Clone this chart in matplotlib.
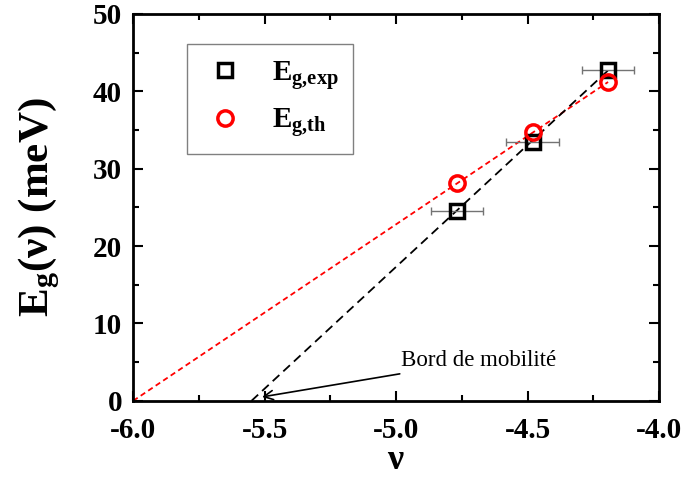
import matplotlib
matplotlib.use("Agg")
import matplotlib.pyplot as plt
from matplotlib.ticker import MultipleLocator

# data
nu_exp = [-4.769, -4.481, -4.194]
eg_exp = [24.5, 33.5, 42.7]
nu_err = [0.1, 0.1, 0.1]
nu_th = [-4.769, -4.481, -4.194]
eg_th = [28.1, 34.8, 41.2]

# dashed guide lines (linear extrapolations to zero)
fit_th_x = [-6.0, -4.194]
fit_th_y = [0.0, 41.2]
fit_exp_x = [-5.55, -4.194]
fit_exp_y = [0.0, 42.7]

plt.rcParams['font.family'] = ['Liberation Serif', 'DejaVu Serif']
plt.rcParams['mathtext.fontset'] = 'custom'
plt.rcParams['mathtext.rm'] = 'Liberation Serif:bold'
plt.rcParams['mathtext.it'] = 'Liberation Serif:bold'
plt.rcParams['mathtext.bf'] = 'Liberation Serif:bold'

fig = plt.figure(figsize=(6.83, 4.8), dpi=100)
ax = fig.add_axes([0.195, 0.165, 0.77, 0.806])

ax.plot(fit_th_x, fit_th_y, color='red', ls=(0, (3, 2)), lw=1.3, zorder=2)
ax.plot(fit_exp_x, fit_exp_y, color='black', ls=(0, (5, 3)), lw=1.3, zorder=2)

ax.errorbar(nu_exp, eg_exp, xerr=nu_err, fmt='none', ecolor='0.45',
            elinewidth=1.0, capsize=3, capthick=1.0, zorder=3)
ax.plot(nu_exp, eg_exp, ls='none', marker='s', ms=10, mfc='none',
        mec='black', mew=2.5, label=r'$\mathrm{E_{g{,}exp}}$', zorder=4)
ax.plot(nu_th, eg_th, ls='none', marker='o', ms=11, mfc='none',
        mec='red', mew=2.5, label=r'$\mathrm{E_{g{,}th}}$', zorder=5)

ax.annotate('Bord de mobilité', xy=(-5.51, 0.5), xytext=(-4.98, 5.2),
            fontsize=16.5, va='center', ha='left',
            arrowprops=dict(arrowstyle='->', color='black', lw=1.2,
                            shrinkA=0, shrinkB=0))

ax.set_xlim(-6.0, -4.0)
ax.set_ylim(0, 50)
ax.xaxis.set_major_locator(MultipleLocator(0.5))
ax.xaxis.set_minor_locator(MultipleLocator(0.25))
ax.yaxis.set_major_locator(MultipleLocator(10))
ax.yaxis.set_minor_locator(MultipleLocator(5))
ax.xaxis.set_major_formatter(plt.FormatStrFormatter('%.1f'))

ax.tick_params(which='both', direction='in', top=True, right=True, width=1.5)
ax.tick_params(which='major', length=7, labelsize=21)
ax.tick_params(axis='x', which='major', pad=12)
ax.tick_params(axis='y', which='major', pad=8)
ax.tick_params(which='minor', length=4)
for lbl in ax.get_xticklabels() + ax.get_yticklabels():
    lbl.set_fontweight('bold')
for sp in ax.spines.values():
    sp.set_linewidth(2)

ax.set_xlabel(r'$\nu$', fontsize=26, labelpad=0)
ax.set_ylabel(r'$\mathrm{E_g(\nu)\ (meV)}$', fontsize=31, labelpad=22)

leg = ax.legend(loc='upper left', bbox_to_anchor=(0.103, 0.922),
                borderaxespad=0, fontsize=21, fancybox=False,
                edgecolor='0.5', framealpha=1, labelspacing=0.5,
                handletextpad=0.8, borderpad=0.5, handlelength=1.6)
leg.get_frame().set_linewidth(1.0)

fig.savefig('out.png', dpi=100)
